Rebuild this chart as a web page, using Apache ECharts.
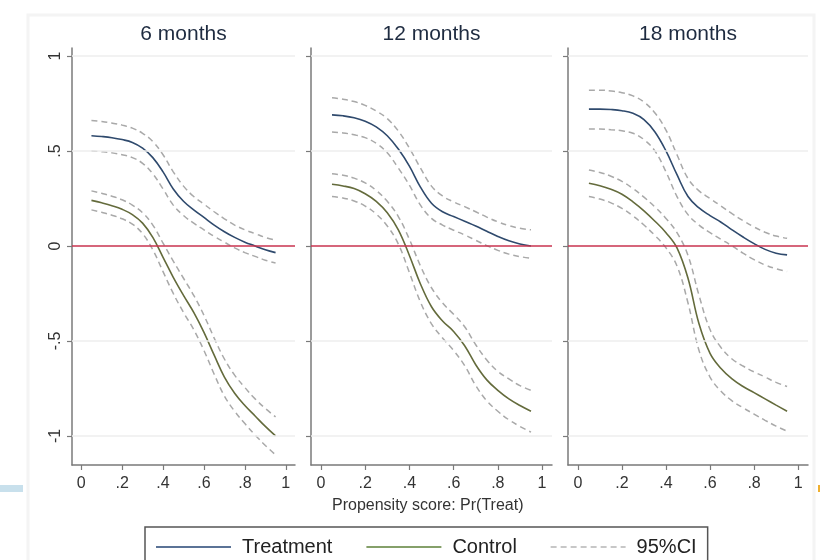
<!DOCTYPE html>
<html>
<head>
<meta charset="utf-8">
<title>Propensity score</title>
<script src="https://cdn.jsdelivr.net/npm/echarts@6/dist/echarts.min.js"></script>
<style>
  html, body { margin: 0; padding: 0; background: #fff; }
  #main { width: 820px; height: 560px; }
</style>
</head>
<body>
<div id="main"></div>
<script>
// 数据: 横轴取值 0.05 .. 0.95
var xs = [0.05, 0.1, 0.15, 0.2, 0.25, 0.3, 0.35, 0.4, 0.45, 0.5, 0.55, 0.6, 0.65, 0.7, 0.75, 0.8, 0.85, 0.9, 0.95]

var panelTitles = ['6 months', '12 months', '18 months']
var xTicks = [0, 0.2, 0.4, 0.6, 0.8, 1]
var yTicks = [-1, -0.5, 0, 0.5, 1]

// 6 months
var treat6 = [0.58, 0.576, 0.57, 0.56, 0.545, 0.515, 0.465, 0.39, 0.30, 0.235, 0.19, 0.15, 0.11, 0.075, 0.045, 0.02, 0.0, -0.02, -0.035]
var treat6Up = [0.66, 0.655, 0.647, 0.636, 0.62, 0.593, 0.55, 0.48, 0.39, 0.315, 0.26, 0.22, 0.18, 0.143, 0.11, 0.085, 0.065, 0.045, 0.03]
var treat6Lo = [0.50, 0.496, 0.49, 0.48, 0.465, 0.435, 0.38, 0.30, 0.215, 0.16, 0.12, 0.085, 0.05, 0.02, -0.01, -0.035, -0.055, -0.075, -0.09]
var ctrl6 = [0.24, 0.227, 0.212, 0.193, 0.165, 0.12, 0.045, -0.06, -0.165, -0.26, -0.35, -0.455, -0.575, -0.69, -0.775, -0.84, -0.895, -0.95, -1.00]
var ctrl6Up = [0.29, 0.277, 0.262, 0.243, 0.215, 0.175, 0.11, 0.015, -0.08, -0.17, -0.26, -0.365, -0.485, -0.595, -0.68, -0.745, -0.805, -0.855, -0.90]
var ctrl6Lo = [0.19, 0.177, 0.162, 0.143, 0.115, 0.065, -0.02, -0.135, -0.25, -0.35, -0.44, -0.55, -0.675, -0.79, -0.87, -0.935, -0.995, -1.05, -1.10]

// 12 months
var treat12 = [0.69, 0.685, 0.675, 0.657, 0.627, 0.58, 0.51, 0.42, 0.31, 0.225, 0.18, 0.155, 0.13, 0.105, 0.077, 0.05, 0.027, 0.01, 0.0]
var treat12Up = [0.78, 0.772, 0.76, 0.74, 0.71, 0.67, 0.605, 0.515, 0.41, 0.315, 0.263, 0.232, 0.207, 0.18, 0.152, 0.127, 0.107, 0.093, 0.085]
var treat12Lo = [0.60, 0.595, 0.585, 0.57, 0.54, 0.49, 0.41, 0.32, 0.215, 0.145, 0.11, 0.083, 0.058, 0.03, 0.002, -0.023, -0.043, -0.056, -0.065]
var ctrl12 = [0.325, 0.316, 0.302, 0.275, 0.235, 0.175, 0.085, -0.05, -0.2, -0.32, -0.395, -0.45, -0.525, -0.625, -0.705, -0.76, -0.805, -0.84, -0.87]
var ctrl12Up = [0.38, 0.372, 0.357, 0.332, 0.292, 0.235, 0.155, 0.035, -0.105, -0.22, -0.3, -0.36, -0.425, -0.52, -0.6, -0.66, -0.7, -0.735, -0.76]
var ctrl12Lo = [0.26, 0.252, 0.237, 0.21, 0.168, 0.105, 0.01, -0.14, -0.295, -0.41, -0.485, -0.55, -0.63, -0.735, -0.815, -0.87, -0.915, -0.95, -0.98]

// 18 months
var treat18 = [0.72, 0.72, 0.718, 0.712, 0.698, 0.665, 0.60, 0.50, 0.375, 0.26, 0.20, 0.16, 0.125, 0.085, 0.047, 0.012, -0.018, -0.038, -0.047]
var treat18Up = [0.82, 0.82, 0.816, 0.807, 0.79, 0.758, 0.70, 0.61, 0.48, 0.355, 0.29, 0.25, 0.21, 0.17, 0.133, 0.1, 0.072, 0.052, 0.04]
var treat18Lo = [0.615, 0.615, 0.612, 0.606, 0.593, 0.56, 0.50, 0.39, 0.26, 0.165, 0.11, 0.07, 0.035, 0.0, -0.038, -0.072, -0.1, -0.12, -0.135]
var ctrl18 = [0.33, 0.317, 0.298, 0.272, 0.232, 0.185, 0.13, 0.07, -0.01, -0.17, -0.41, -0.565, -0.645, -0.7, -0.74, -0.772, -0.805, -0.838, -0.87]
var ctrl18Up = [0.40, 0.387, 0.367, 0.34, 0.302, 0.257, 0.205, 0.145, 0.07, -0.05, -0.26, -0.44, -0.535, -0.595, -0.632, -0.663, -0.69, -0.718, -0.74]
var ctrl18Lo = [0.26, 0.247, 0.227, 0.198, 0.158, 0.11, 0.055, -0.01, -0.105, -0.3, -0.55, -0.69, -0.765, -0.815, -0.852, -0.885, -0.918, -0.948, -0.975]

var panels = [
    [treat6, treat6Up, treat6Lo, ctrl6, ctrl6Up, ctrl6Lo],
    [treat12, treat12Up, treat12Lo, ctrl12, ctrl12Up, ctrl12Lo],
    [treat18, treat18Up, treat18Lo, ctrl18, ctrl18Up, ctrl18Lo],
]

var font = 'Liberation Sans, Arial, sans-serif'
var axisColor = '#7a7a7a'
var treatColor = '#2f4a6d'
var ctrlColor = '#646b3c'
var ciColor = '#a9a9a9'

// 三个面板的位置
var grids = [
    {left: 72, top: 48, width: 223, height: 417},
    {left: 311, top: 48, width: 241, height: 417},
    {left: 568, top: 48, width: 240, height: 417},
]

var fmt = function(v) {
    var s = String(Math.round(v * 100) / 100)
    return s.replace('0.', '.')
}

var zip = function(ys) {
    var r = []
    for (var i = 0; i < xs.length; i++) {
        r.push([xs[i], ys[i]])
    }
    return r
}

var xAxes = []
var yAxes = []
var titles = []
var series = []

for (var i = 0; i < 3; i++) {
    var g = grids[i]
    titles.push({
        text: panelTitles[i],
        left: g.left + g.width / 2,
        top: 24,
        textAlign: 'center',
        padding: 0,
        textStyle: {fontFamily: font, fontSize: 21, fontWeight: 'normal', color: '#1e2b40'},
    })
    xAxes.push({
        type: 'value',
        gridIndex: i,
        min: -0.045,
        max: 1.045,
        axisLine: {show: true, onZero: false, lineStyle: {color: axisColor, width: 1.5}},
        axisTick: {show: true, length: 5, lineStyle: {color: axisColor, width: 1.2}, customValues: xTicks},
        axisLabel: {
            customValues: xTicks, margin: 11,
            fontFamily: font, fontSize: 16, color: '#333',
            formatter: fmt,
        },
        splitLine: {show: false},
    })
    yAxes.push({
        type: 'value',
        gridIndex: i,
        min: -1.153,
        max: 1.042,
        axisLine: {show: true, onZero: false, lineStyle: {color: axisColor, width: 1.5}},
        axisTick: {show: true, length: 5, lineStyle: {color: axisColor, width: 1.2}, customValues: yTicks},
        axisLabel: {
            show: i === 0,
            customValues: yTicks, margin: 8, rotate: 90,
            fontFamily: font, fontSize: 16, color: '#333',
            formatter: fmt,
        },
        splitLine: {show: false},
    })

    var d = panels[i]
    var base = {
        type: 'line',
        xAxisIndex: i,
        yAxisIndex: i,
        smooth: 0.4,
        symbol: 'none',
        silent: true,
        animation: false,
    }
    // 网格线和 0 参考线
    series.push(Object.assign({}, base, {
        name: 'grid' + i,
        data: [],
        markLine: {
            silent: true,
            symbol: 'none',
            label: {show: false},
            lineStyle: {color: '#eeeeee', width: 1.5, type: 'solid'},
            data: [{yAxis: 1}, {yAxis: 0.5}, {yAxis: -0.5}, {yAxis: -1}],
        },
    }))
    series.push(Object.assign({}, base, {name: '95%CI', data: zip(d[1]), lineStyle: {color: ciColor, width: 1.5, type: [6, 4]}}))
    series.push(Object.assign({}, base, {name: '95%CI', data: zip(d[2]), lineStyle: {color: ciColor, width: 1.5, type: [6, 4]}}))
    series.push(Object.assign({}, base, {name: '95%CI', data: zip(d[4]), lineStyle: {color: ciColor, width: 1.5, type: [6, 4]}}))
    series.push(Object.assign({}, base, {name: '95%CI', data: zip(d[5]), lineStyle: {color: ciColor, width: 1.5, type: [6, 4]}}))
    series.push(Object.assign({}, base, {
        name: 'zero' + i,
        data: [],
        markLine: {
            silent: true,
            symbol: 'none',
            label: {show: false},
            lineStyle: {color: '#c9334f', width: 1.6, type: 'solid'},
            data: [{yAxis: 0}],
        },
    }))
    series.push(Object.assign({}, base, {name: 'Treatment', data: zip(d[0]), lineStyle: {color: treatColor, width: 1.6}}))
    series.push(Object.assign({}, base, {name: 'Control', data: zip(d[3]), lineStyle: {color: ctrlColor, width: 1.6}}))
}

var myChart = echarts.init(document.getElementById('main'), null, {renderer: 'canvas'})

var option = {
    backgroundColor: '#ffffff',
    animation: false,
    title: titles,
    grid: grids,
    xAxis: xAxes,
    yAxis: yAxes,
    legend: {
        data: [
            {name: 'Treatment', itemStyle: {opacity: 0}, lineStyle: {color: '#5b7396', width: 2}},
            {name: 'Control', itemStyle: {opacity: 0}, lineStyle: {color: '#85a06a', width: 2}},
            {name: '95%CI', itemStyle: {opacity: 0}, lineStyle: {color: '#b5b5b5', width: 1.5, type: [6, 4]}},
        ],
        left: 145,
        top: 527,
        padding: [10, 11, 12, 10],
        itemWidth: 75,
        itemHeight: 14,
        itemGap: 33,
        borderColor: '#555',
        borderWidth: 1.5,
        selectedMode: false,
        textStyle: {fontFamily: font, fontSize: 20, color: '#222', padding: [0, 0, 0, 6]},
    },
    graphic: [
        {type: 'rect', shape: {x: 28, y: 15, width: 786, height: 600}, style: {fill: 'none', stroke: '#f4f4f4', lineWidth: 3}, silent: true, z: -10},
        {type: 'rect', shape: {x: 0, y: 485, width: 23, height: 7}, style: {fill: '#c8e0ec'}, silent: true},
        {type: 'rect', shape: {x: 818, y: 485, width: 2, height: 7}, style: {fill: '#f0b030'}, silent: true},
        {
            type: 'text', left: 332, top: 498,
            style: {text: 'Propensity score: Pr(Treat)', fontFamily: font, fontSize: 16, fill: '#333'},
            silent: true,
        },
    ],
    series: series,
}

myChart.setOption(option)
</script>
</body>
</html>
